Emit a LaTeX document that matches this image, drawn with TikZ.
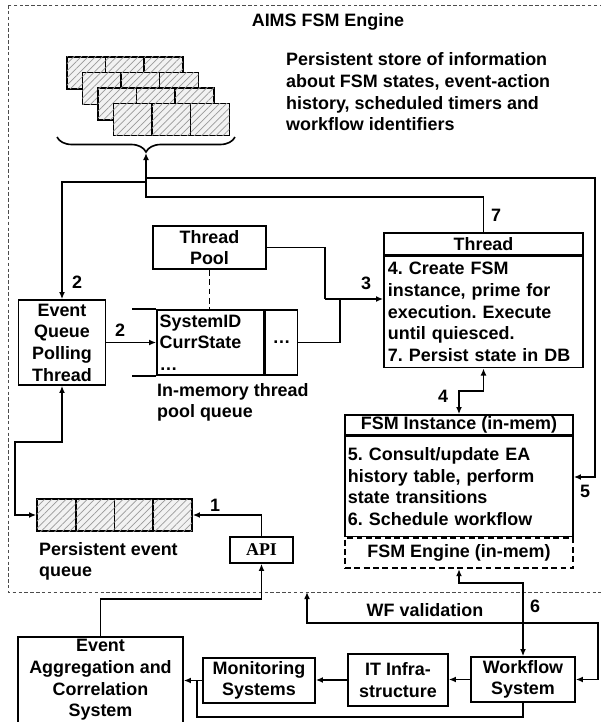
\documentclass[tikz,border=0pt]{standalone}
\usepackage{fontspec}
\setmainfont{Liberation Sans}
\newfontfamily\apifont{Liberation Serif}
\usetikzlibrary{positioning,arrows.meta,patterns.meta,decorations.pathreplacing}
\frenchspacing

\begin{document}
\begin{tikzpicture}[x=0.03cm, y=-0.03cm,
  font=\fontsize{15.3}{18.5}\selectfont\bfseries,
  box/.style={draw, line width=1.4pt, align=center, inner sep=0pt},
  txtbox/.style={draw, line width=1.4pt, align=left, inner ysep=0pt},
  cell/.style={draw, line width=1.4pt, fill=gray!10, inner sep=0pt,
    postaction={pattern={Lines[angle=45,distance=4.3pt,line width=0.6pt]}, pattern color=gray!80},
    minimum width=1.16cm, minimum height=0.96cm},
  link/.style={line width=1.4pt},
  arr/.style={link, -{Latex[length=6pt,width=5pt]}},
  arrs/.style={link, {Latex[length=6pt,width=5pt]}-{Latex[length=6pt,width=5pt]}},
  num/.style={inner sep=1pt}]
\useasboundingbox (0,0) rectangle (601,722);
\clip (0,0) rectangle (601,722);
\draw[line width=0.8pt, dash pattern=on 3pt off 2pt, gray!60!black] (8,5) rectangle (606,592);
\node (title) at (328,22) {AIMS FSM Engine};
\node[align=left, anchor=west, inner sep=0pt] (info) at (286,92) {Persistent store of information\\about FSM states, event-action\\history, scheduled timers and\\workflow identifiers};
\foreach \i in {0,...,3}
  \foreach \j in {0,1,2}
    \node[cell, anchor=north west] (db\i\j) at (66+15.5*\i+38.67*\j, 56+15.5*\i) {};
\draw[link, decorate, decoration={brace, amplitude=0.45cm}] (235,137) -- (57,137);
\coordinate (dbtip) at (146,153);
\coordinate (j5) at (146,178);
\coordinate (j2) at (146,182);
\coordinate (j7) at (146,197);
\node[box, minimum width=2.61cm, minimum height=2.55cm] (eqpt) at (62,342.5) {Event\\Queue\\Polling\\Thread};
\node[box, minimum width=3.39cm, minimum height=1.29cm] (tpool) at (209.5,247.5) {Thread\\Pool};
\node[txtbox, minimum width=3.21cm, minimum height=1.95cm, text width=3.05cm, inner xsep=0.08cm] (qmain) at (210.5,342.5) {SystemID\\CurrState\\\ldots};
\node[box, minimum width=0.96cm, minimum height=1.95cm, right=0pt of qmain] (qmore) {\ldots};
\draw[link] (qmain.north west) -- ++(-24,0);
\draw[link] (qmain.south west) -- ++(-24,0);
\node[align=left, anchor=north west, inner sep=0pt] (qlbl) at (157,383) {In-memory thread\\pool queue};
\node[box, minimum width=5.97cm, minimum height=0.66cm] (thead) at (483.5,244) {Thread};
\node[txtbox, below=0pt of thead, text width=5.73cm, inner xsep=0.12cm, minimum height=3.33cm] (tbody) {4. Create FSM\\instance, prime for\\execution. Execute\\until quiesced.\\7. Persist state in DB};
\node[box, minimum width=6.84cm, minimum height=0.6cm] (fhead) at (459,425) {FSM Instance (in-mem)};
\node[txtbox, below=0pt of fhead, text width=6.66cm, inner xsep=0.09cm, minimum height=3.0cm] (fbody) {5. Consult/update EA\\history table, perform\\state transitions\\6. Schedule workflow};
\node[box, dash pattern=on 5pt off 3pt, minimum width=6.84cm, minimum height=0.9cm, below=0pt of fbody] (feng) {FSM Engine (in-mem)};
\node[box, minimum width=3.12cm, minimum height=1.35cm] (wf) at (523,679.5) {Workflow\\System};
\node[box, minimum width=3.0cm, minimum height=1.56cm] (itinf) at (398,680) {IT Infra-\\structure};
\node[box, minimum width=3.36cm, minimum height=1.35cm] (mon) at (259,680.5) {Monitoring\\Systems};
\node[box, minimum width=4.95cm, minimum height=2.58cm] (eac) at (100.5,680) {Event\\Aggregation and\\Correlation\\System};
\node[box, minimum width=1.89cm, minimum height=0.78cm, font=\fontsize{15.3}{18.5}\selectfont\apifont\bfseries] (api) at (261.5,550) {API};
\foreach \k in {1,...,4}
  \node[cell, minimum width=1.1625cm] (pq\k) at (17.6+38.75*\k, 515) {};
\node[align=left, anchor=north west, inner sep=0pt] (pqlbl) at (39,542) {Persistent event\\queue};
\draw[arr] (thead.north) |- (j7) -- (dbtip);
\node[num] (n7) at (496,215) {7};
\coordinate (r5) at (595,477);
\draw[arr] (j5) -| (r5) -- (r5 -| fbody.east);
\node[num] (n5) at (585,491) {5};
\draw[arr] (j2) -| (eqpt.north);
\node[num] (n2a) at (77,282) {2};
\draw[arr] (eqpt.east) -- (qmain.west);
\node[num] (n2b) at (120,330) {2};
\draw[link, dash pattern=on 5pt off 3pt] (tpool.south) -- (qmain.north -| tpool.south);
\coordinate (c3a) at (325,299);
\coordinate (c3b) at (340,299);
\draw[link] (tpool.east) -| (c3a);
\draw[link] (qmore.east) -| (c3b);
\draw[arr] (c3a) -- (c3a -| tbody.west);
\node[num] (n3) at (366,283) {3};
\coordinate (c4) at (470,391);
\draw[arrs] (fhead.north) |- (c4) -| (tbody.south);
\node[num] (n4) at (443,396) {4};
\coordinate (c6) at (490,583);
\draw[arrs] (feng.south) |- (c6) -| (wf.north);
\node[num] (n6) at (535,606) {6};
\coordinate (wfv) at (307,592);
\coordinate (c8) at (598,623);
\draw[arrs] (wfv) |- (c8) |- (wf.east);
\node (wfvlbl) at (425,610) {WF validation};
\draw[arr] (wf.west) -- (wf.west -| itinf.east);
\draw[arr] (itinf.west) -- (itinf.west -| mon.east);
\draw[arr] (mon.west) -- (mon.west -| eac.east);
\coordinate (c9) at (197,717);
\draw[link] (wf.south) |- (c9) -- (c9 |- mon.west);
\coordinate (c10) at (261.5,599);
\draw[arr] (eac.north) |- (c10) -- (api.south);
\draw[arr] (api.north) |- (pq4.east);
\node[num] (n1) at (215,505) {1};
\coordinate (c11) at (15,442);
\draw[arrs] (pq1.west) -| (c11) -| (eqpt.south);
\end{tikzpicture}
\end{document}
